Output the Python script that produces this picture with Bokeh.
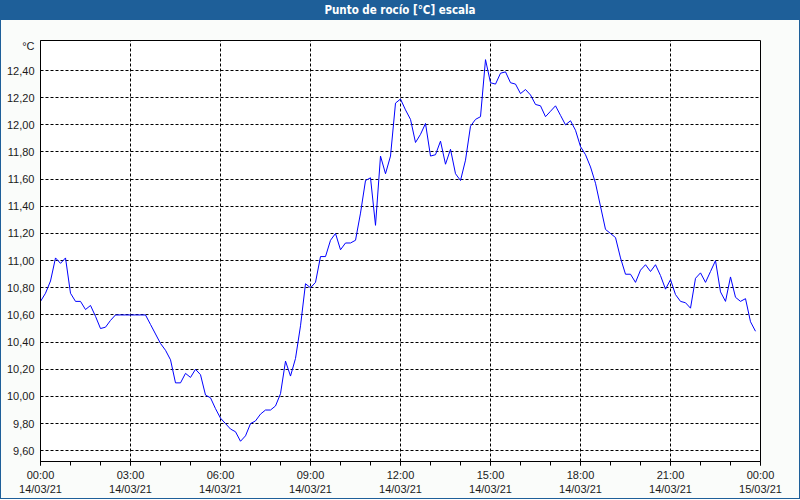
from bokeh.plotting import figure
from bokeh.models import FixedTicker, Div, Range1d
from bokeh.layouts import column
from bokeh.embed import file_html
from bokeh.resources import INLINE

title_text = "Punto de rocío [°C] escala"
unit_label = "°C"

# dew point readings, one every 10 minutes from 14/03/21 00:00
dew_point = [
    10.70, 10.76, 10.85, 11.02, 10.98, 11.02, 10.76, 10.70, 10.70, 10.64,
    10.67, 10.59, 10.50, 10.51, 10.56, 10.60, 10.60, 10.60, 10.60, 10.60,
    10.60, 10.60, 10.53, 10.46, 10.39, 10.34, 10.27, 10.10, 10.10, 10.17,
    10.14, 10.20, 10.16, 10.01, 9.99, 9.91, 9.84, 9.80, 9.76, 9.74,
    9.67, 9.71, 9.80, 9.82, 9.87, 9.90, 9.90, 9.93, 10.02, 10.26,
    10.15, 10.28, 10.52, 10.83, 10.80, 10.84, 11.03, 11.03, 11.15, 11.20,
    11.08, 11.13, 11.13, 11.15, 11.35, 11.59, 11.61, 11.26, 11.77, 11.64,
    11.77, 12.16, 12.19, 12.11, 12.04, 11.87, 11.93, 12.01, 11.77, 11.78,
    11.88, 11.71, 11.82, 11.64, 11.59, 11.74, 11.99, 12.04, 12.06, 12.48,
    12.31, 12.30, 12.38, 12.39, 12.31, 12.30, 12.23, 12.26, 12.22, 12.15,
    12.14, 12.06, 12.10, 12.14, 12.07, 12.00, 12.03, 11.96, 11.84, 11.78,
    11.69, 11.57, 11.40, 11.23, 11.20, 11.17, 11.02, 10.90, 10.90, 10.84,
    10.93, 10.97, 10.92, 10.97, 10.89, 10.79, 10.86, 10.75, 10.70, 10.69,
    10.65, 10.87, 10.91, 10.84, 10.92, 11.00, 10.77, 10.70, 10.88, 10.73,
    10.70, 10.72, 10.55, 10.48,
]
sample_step_minutes = 10
hours = [i * sample_step_minutes / 60 for i in range(len(dew_point))]

x_ticks = [0, 3, 6, 9, 12, 15, 18, 21, 24]
x_tick_labels = [
    "00:00\n14/03/21", "03:00\n14/03/21", "06:00\n14/03/21", "09:00\n14/03/21",
    "12:00\n14/03/21", "15:00\n14/03/21", "18:00\n14/03/21", "21:00\n14/03/21",
    "00:00\n15/03/21",
]
x_minor_ticks = list(range(0, 25))
y_ticks = [9.6, 9.8, 10.0, 10.2, 10.4, 10.6, 10.8, 11.0, 11.2, 11.4, 11.6, 11.8, 12.0, 12.2, 12.4]
y_tick_labels = ["9,60", "9,80", "10,00", "10,20", "10,40", "10,60", "10,80", "11,00",
                 "11,20", "11,40", "11,60", "11,80", "12,00", "12,20", "12,40"]
unit_tick = 12.577

BAR = "#1e5f99"
BG = "#fafcfa"
FONT = "Liberation Sans"

title = Div(
    text=title_text, width=798, height=19,
    styles={"background-color": BAR, "color": "white", "font-weight": "bold",
            "text-align": "center", "font-family": "'Liberation Sans Narrow', 'DejaVu Sans Condensed', 'Liberation Sans'",
            "font-size": "11.5px", "line-height": "19px", "margin": "0"},
)

p = figure(width=798, height=478, output_backend="svg", toolbar_location=None,
           x_range=Range1d(0, 24), y_range=Range1d(9.521, 12.621),
           min_border_left=39, min_border_right=39, min_border_top=20, min_border_bottom=37)
p.background_fill_color = "white"
p.border_fill_color = BG
p.outline_line_color = "black"
p.outline_line_alpha = 1.0
p.outline_line_width = 1

p.line(hours, dew_point, line_color="#0000ff", line_width=1)

# x axis
p.xaxis.ticker = FixedTicker(ticks=x_ticks, minor_ticks=x_minor_ticks)
p.xaxis.major_label_overrides = {t: l for t, l in zip(x_ticks, x_tick_labels)}
p.xaxis.major_tick_in = 0
p.xaxis.major_tick_out = 4
p.xaxis.minor_tick_in = 0
p.xaxis.minor_tick_out = 4
p.xaxis.major_label_standoff = 3
p.xaxis.major_label_text_font = FONT
p.xaxis.major_label_text_font_size = "11px"
p.xaxis.major_label_text_color = "#1a1a1a"
p.xaxis.axis_line_color = "black"

# y axis
p.yaxis.ticker = FixedTicker(ticks=y_ticks + [unit_tick])
overrides = {t: l for t, l in zip(y_ticks, y_tick_labels)}
overrides[unit_tick] = unit_label
p.yaxis.major_label_overrides = overrides
p.yaxis.major_tick_in = 0
p.yaxis.major_tick_out = 0
p.yaxis.minor_tick_line_color = None
p.yaxis.major_label_standoff = 6
p.yaxis.major_label_text_font = FONT
p.yaxis.major_label_text_font_size = "11px"
p.yaxis.major_label_text_color = "#1a1a1a"
p.yaxis.axis_line_color = "black"

# grids
p.xgrid.ticker = FixedTicker(ticks=x_ticks)
p.ygrid.ticker = FixedTicker(ticks=y_ticks)
for g in (p.xgrid, p.ygrid):
    g.grid_line_color = "black"
    g.grid_line_dash = "3 2"
    g.grid_line_width = 1
    g.grid_line_alpha = 1.0

layout = column(title, p, spacing=0,
                styles={"border": f"1px solid {BAR}", "background-color": BG})

open("out.html", "w").write(file_html(layout, INLINE))
